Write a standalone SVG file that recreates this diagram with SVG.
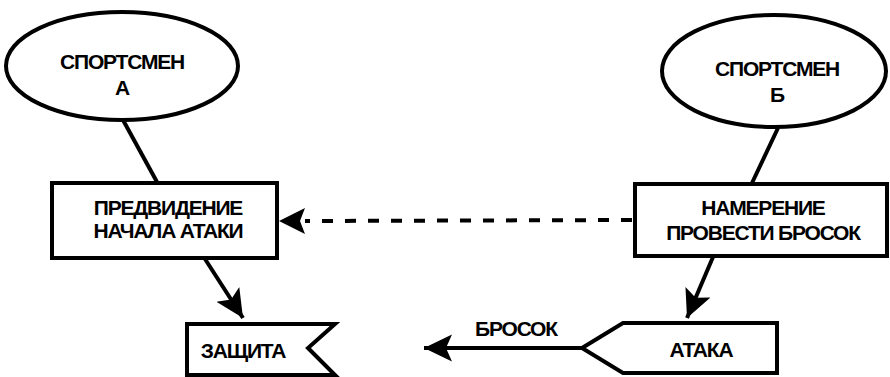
<svg xmlns="http://www.w3.org/2000/svg" width="890" height="377" viewBox="0 0 890 377">
<style>
.shape{fill:#fff;stroke:#000;stroke-width:4;stroke-linejoin:miter}
.line{fill:none;stroke:#000;stroke-width:4}
.dash{fill:none;stroke:#000;stroke-width:4;stroke-dasharray:11 12}
text{font-family:"Liberation Sans",Arial,sans-serif;font-weight:bold;font-size:21px;fill:#000;text-anchor:middle;letter-spacing:-1.2px}
</style>
<defs>
<marker id="arr" markerWidth="8" markerHeight="8" refX="7" refY="4" orient="auto" markerUnits="strokeWidth" viewBox="0 0 8 8">
<path d="M0,0.6 L7,4 L0,7.4 L1.5,4 Z" fill="#000"/>
</marker>
</defs>
<g id="connectors">
<line class="line" x1="123" y1="120" x2="157" y2="182"/>
<line class="line" x1="778" y1="128" x2="752" y2="183"/>
<line class="dash" x1="632" y1="220" x2="305" y2="221"/>
<path d="M279,221 L305,208 L300,221 L305,234 Z" fill="#000"/>
<line class="line" x1="205" y1="259" x2="243" y2="318" marker-end="url(#arr)"/>
<line class="line" x1="713" y1="257" x2="687" y2="318" marker-end="url(#arr)"/>
<line class="line" x1="582" y1="348" x2="424" y2="348" marker-end="url(#arr)"/>
<text x="516" y="336">БРОСОК</text>
</g>
<g id="sportsmen-a">
<ellipse class="shape" cx="122" cy="66" rx="116" ry="54"/>
<text x="122" y="69">СПОРТСМЕН</text>
<text x="122" y="95">А</text>
</g>
<g id="sportsmen-b">
<ellipse class="shape" cx="774" cy="71" rx="112" ry="56"/>
<text x="777" y="76">СПОРТСМЕН</text>
<text x="777" y="102">Б</text>
</g>
<g id="predvidenie">
<rect class="shape" x="52" y="183" width="225" height="75"/>
<text x="168" y="215">ПРЕДВИДЕНИЕ</text>
<text x="168" y="238">НАЧАЛА АТАКИ</text>
</g>
<g id="namerenie">
<rect class="shape" x="635" y="184" width="252" height="72"/>
<text x="763" y="215">НАМЕРЕНИЕ</text>
<text x="763" y="240">ПРОВЕСТИ БРОСОК</text>
</g>
<g id="zashchita">
<path class="shape" d="M187,324 L335,324 L308,348 L335,375 L187,375 Z"/>
<text x="243" y="358">ЗАЩИТА</text>
</g>
<g id="ataka">
<path class="shape" d="M582,348 L623,323 L777,323 L777,373 L623,373 Z"/>
<text x="701" y="357">АТАКА</text>
</g>
</svg>
